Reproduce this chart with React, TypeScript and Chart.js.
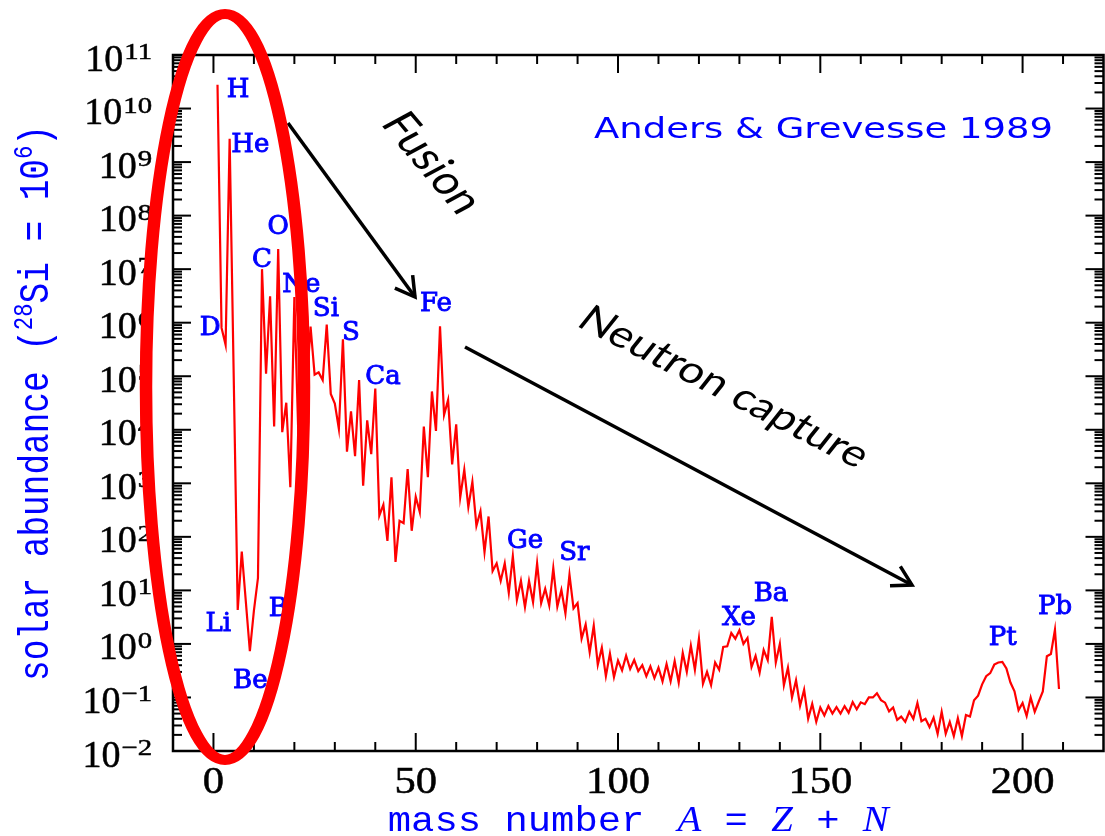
import { useEffect, useRef } from 'react';
import { Chart, registerables } from 'chart.js';

Chart.register(...registerables);

// Solar-system abundances summed over isobars, normalised to 28Si = 1e6
// (Anders & Grevesse 1989). Mass numbers 5 and 8 have no stable nuclei.
const lightMassNumbers = [1, 2, 3, 4, 6, 7, 9, 10, 11];
const lightAbundances = [2.79e10, 8.0e5, 3.86e5, 2.72e9, 4.3, 52.8, 0.73, 4.2, 17.0];

// A = 12 ... 40
const abundancesFromA12 = [
  1.0e7, 1.12e5, 3.12e6, 1.15e4, 2.37e7, 9.0e3, 3.2e4, 843, 3.0e6, 7.3e3,
  3.5e5, 5.74e4, 8.5e5, 1.07e5, 1.18e5, 8.49e4, 9.22e5, 4.67e4, 3.1e4, 1.04e4,
  4.9e5, 3.9e3, 2.2e4, 3.2e3, 8.5e4, 900, 1.5e4, 3.5e3, 5.9e4,
];

// A = 41 ... 70
const abundancesFromA41 = [
  250, 400, 84, 1.3e3, 34, 200, 180, 1.85e3, 130, 560,
  290, 1.15e4, 1.3e3, 5.2e4, 9.55e3, 8.6e5, 1.9e4, 3.6e4, 2.25e3, 1.26e4,
  550, 1.8e3, 360, 1.07e3, 160, 300, 52, 240, 23, 32,
];

// A = 71 ... 100
const abundancesFromA71 = [
  15, 32, 9, 43.5, 6.6, 15, 4.9, 15, 6.0, 32,
  5.8, 10.7, 5.2, 26, 5.0, 10.2, 3.7, 19.6, 4.6, 5.8,
  1.26, 2.3, 0.7, 2.2, 0.41, 0.85, 0.25, 0.66, 0.24, 0.49,
];

// A = 101 ... 140
const abundancesFromA101 = [
  0.32, 0.6, 0.34, 0.5, 0.31, 0.4, 0.25, 0.38, 0.23, 0.36,
  0.2, 0.42, 0.2, 0.48, 0.19, 0.68, 0.3, 0.93, 0.33, 1.26,
  0.18, 0.3, 0.17, 0.45, 0.33, 0.88, 0.9, 1.6, 1.25, 1.8,
  1.0, 1.29, 0.37, 0.6, 0.29, 0.77, 0.5, 3.2, 0.45, 1.0,
];

// A = 141 ... 180
const abundancesFromA141 = [
  0.17, 0.36, 0.1, 0.21, 0.07, 0.14, 0.04, 0.076, 0.035, 0.065,
  0.046, 0.069, 0.05, 0.066, 0.05, 0.069, 0.052, 0.082, 0.06, 0.081,
  0.075, 0.1, 0.1, 0.12, 0.089, 0.08, 0.055, 0.065, 0.038, 0.044,
  0.035, 0.054, 0.04, 0.079, 0.036, 0.04, 0.028, 0.042, 0.021, 0.054,
];

// A = 181 ... 209
const abundancesFromA181 = [
  0.021, 0.035, 0.019, 0.041, 0.019, 0.047, 0.044, 0.089, 0.108, 0.176,
  0.25, 0.285, 0.41, 0.45, 0.46, 0.35, 0.19, 0.13, 0.058, 0.079,
  0.045, 0.1, 0.054, 0.084, 0.13, 0.59, 0.65, 1.85, 0.144,
];

const consecutiveRuns: [number, number[]][] = [
  [12, abundancesFromA12],
  [41, abundancesFromA41],
  [71, abundancesFromA71],
  [101, abundancesFromA101],
  [141, abundancesFromA141],
  [181, abundancesFromA181],
];

// Axis ticks
const massTickLabels = [0, 50, 100, 150, 200];
const decadeExponents = [-2, -1, 0, 1, 2, 3, 4, 5, 6, 7, 8, 9, 10, 11];

// Element tags, anchored in data space (mass number, log10 abundance)
const elementSymbols = ['H', 'He', 'D', 'Li', 'Be', 'B', 'C', 'O', 'Ne', 'Si', 'S', 'Ca', 'Fe', 'Ge', 'Sr', 'Xe', 'Ba', 'Pt', 'Pb'];
const elementTagMass = [6.1, 9.1, -0.8, 1.2, 9.1, 16.0, 12.0, 16.0, 21.7, 27.8, 34.0, 41.9, 55.0, 77.0, 89.2, 129.9, 137.8, 195.1, 208.0];
const elementTagLog = [10.4, 9.37, 5.94, 0.41, -0.65, 0.69, 7.21, 7.84, 6.76, 6.31, 5.86, 5.04, 6.39, 1.96, 1.74, 0.54, 0.97, 0.15, 0.73];

const BLUE = 'rgb(0,0,255)';
const RED = 'rgb(255,0,0)';
const SERIF = '"Liberation Serif", "DejaVu Serif", serif';
const MONO = '"Liberation Mono", "DejaVu Sans Mono", monospace';
const TAG_FONT = '"DejaVu Serif", serif';
const SANS = '"DejaVu Sans", sans-serif';
const NOTE_FONT = 'Lato, "Open Sans", sans-serif';
const STRETCH = 1.25;

function buildPoints() {
  const pts = lightMassNumbers.map((a, i) => ({ x: a, y: lightAbundances[i] }));
  consecutiveRuns.forEach(([start, values]) => {
    values.forEach((v, i) => pts.push({ x: start + i, y: v }));
  });
  return pts;
}

type Piece = { text: string; font: string; rise?: number };

function piecesWidth(ctx: CanvasRenderingContext2D, pieces: Piece[]) {
  let w = 0;
  for (const p of pieces) {
    ctx.font = p.font;
    w += ctx.measureText(p.text).width;
  }
  return w;
}

function drawPieces(ctx: CanvasRenderingContext2D, pieces: Piece[], x0: number) {
  let x = x0;
  for (const p of pieces) {
    ctx.font = p.font;
    ctx.fillText(p.text, x, -(p.rise || 0));
    x += ctx.measureText(p.text).width;
  }
}

function segment(ctx: CanvasRenderingContext2D, x1: number, y1: number, x2: number, y2: number) {
  ctx.beginPath();
  ctx.moveTo(x1, y1);
  ctx.lineTo(x2, y2);
  ctx.stroke();
}

function arrow(ctx: CanvasRenderingContext2D, x1: number, y1: number, x2: number, y2: number) {
  segment(ctx, x1, y1, x2, y2);
  const back = Math.atan2(y1 - y2, x1 - x2);
  const len = 22;
  const spread = (30 * Math.PI) / 180;
  ctx.beginPath();
  ctx.moveTo(x2 + len * Math.cos(back + spread), y2 + len * Math.sin(back + spread));
  ctx.lineTo(x2, y2);
  ctx.lineTo(x2 + len * Math.cos(back - spread), y2 + len * Math.sin(back - spread));
  ctx.stroke();
}

const axesPlugin = {
  id: 'axesFrame',
  afterDatasetsDraw(chart: any) {
    const { ctx, chartArea: a, scales } = chart;
    const xs = scales.x;
    const ys = scales.y;
    ctx.save();
    ctx.strokeStyle = '#000';
    ctx.lineWidth = 2;
    ctx.lineCap = 'butt';

    // mass-number ticks on bottom and top edges
    for (let m = 0; m < xs.max; m += 10) {
      const px = xs.getPixelForValue(m);
      const len = m % 50 === 0 ? 18 : 9;
      segment(ctx, px, a.bottom, px, a.bottom - len);
      segment(ctx, px, a.top, px, a.top + len);
    }

    // logarithmic ticks on left and right edges
    decadeExponents.forEach((e, idx) => {
      const py = ys.getPixelForValue(Math.pow(10, e));
      segment(ctx, a.left, py, a.left + 18, py);
      segment(ctx, a.right, py, a.right - 18, py);
      if (idx < decadeExponents.length - 1) {
        for (let k = 2; k <= 9; k++) {
          const pm = ys.getPixelForValue(k * Math.pow(10, e));
          segment(ctx, a.left, pm, a.left + 9, pm);
          segment(ctx, a.right, pm, a.right - 9, pm);
        }
      }
    });

    ctx.lineWidth = 2.5;
    ctx.strokeRect(a.left, a.top, a.right - a.left, a.bottom - a.top);

    // y tick labels: 10 with a raised exponent
    ctx.fillStyle = '#000';
    ctx.strokeStyle = '#000';
    ctx.lineWidth = 0.5;
    ctx.textBaseline = 'alphabetic';
    ctx.textAlign = 'left';
    decadeExponents.forEach((e) => {
      const py = ys.getPixelForValue(Math.pow(10, e));
      const expText = e < 0 ? '\u2212' + Math.abs(e) : String(e);
      ctx.font = `23px ${SERIF}`;
      const we = ctx.measureText(expText).width * 1.25;
      ctx.font = `38px ${SERIF}`;
      const wb = ctx.measureText('10').width;
      const right = 152;
      ctx.save();
      ctx.translate(right - we, py + 4);
      ctx.scale(1.25, 1);
      ctx.font = `23px ${SERIF}`;
      ctx.fillText(expText, 0, 0);
      ctx.strokeText(expText, 0, 0);
      ctx.restore();
      ctx.font = `38px ${SERIF}`;
      ctx.fillText('10', right - we - 1 - wb, py + 15.5);
      ctx.strokeText('10', right - we - 1 - wb, py + 15.5);
    });

    // x tick labels
    ctx.textAlign = 'center';
    massTickLabels.forEach((m) => {
      const px = xs.getPixelForValue(m);
      ctx.save();
      ctx.translate(px, a.bottom + 42);
      ctx.scale(1.15, 1);
      ctx.font = `37px ${SERIF}`;
      ctx.fillText(String(m), 0, 0);
      ctx.strokeText(String(m), 0, 0);
      ctx.restore();
    });

    // x axis title
    ctx.fillStyle = BLUE;
    ctx.textAlign = 'left';
    const mono = `35px ${MONO}`;
    const ital = `italic 35px ${SERIF}`;
    const xTitle: Piece[] = [
      { text: 'mass number ', font: mono },
      { text: ' A', font: ital },
      { text: ' = ', font: mono },
      { text: 'Z', font: ital },
      { text: ' + ', font: mono },
      { text: 'N', font: ital },
    ];
    const xw = piecesWidth(ctx, xTitle);
    const xTarget = 501;
    ctx.save();
    ctx.translate((a.left + a.right) / 2 - xTarget / 2, a.bottom + 80);
    ctx.scale(xTarget / xw, 1);
    drawPieces(ctx, xTitle, 0);
    ctx.restore();

    // y axis title
    const yMono = `34px ${MONO}`;
    const ySup = `22px ${MONO}`;
    const yTitle: Piece[] = [
      { text: 'solar abundance (', font: yMono },
      { text: '28', font: ySup, rise: 13 },
      { text: 'Si = 10', font: yMono },
      { text: '6', font: ySup, rise: 13 },
      { text: ')', font: yMono },
    ];
    const yw = piecesWidth(ctx, yTitle);
    const yTarget = 556;
    ctx.save();
    ctx.translate(48, (a.top + a.bottom) / 2);
    ctx.rotate(-Math.PI / 2);
    ctx.scale(yTarget / yw, STRETCH);
    drawPieces(ctx, yTitle, -yw / 2);
    ctx.restore();

    ctx.restore();
  },
};

const notesPlugin = {
  id: 'notes',
  afterDraw(chart: any) {
    const { ctx, scales } = chart;
    const xs = scales.x;
    const ys = scales.y;
    ctx.save();

    // element tags
    ctx.fillStyle = BLUE;
    ctx.strokeStyle = BLUE;
    ctx.lineWidth = 0.9;
    ctx.textAlign = 'center';
    ctx.textBaseline = 'alphabetic';
    ctx.font = `26px ${TAG_FONT}`;
    elementSymbols.forEach((sym, i) => {
      const px = xs.getPixelForValue(elementTagMass[i]);
      const py = ys.getPixelForValue(Math.pow(10, elementTagLog[i]));
      ctx.fillText(sym, px, py + 9.5);
      ctx.strokeText(sym, px, py + 9.5);
    });

    // reference caption
    ctx.textAlign = 'left';
    ctx.font = `29px ${SANS}`;
    const cap = 'Anders & Grevesse 1989';
    const cw = ctx.measureText(cap).width;
    ctx.save();
    ctx.translate(594, 138);
    ctx.scale(459 / cw, 1);
    ctx.fillText(cap, 0, 0);
    ctx.restore();

    // process arrows
    ctx.strokeStyle = '#000';
    ctx.lineWidth = 3.5;
    ctx.lineJoin = 'miter';
    arrow(ctx, 288, 123, 415, 297);
    arrow(ctx, 465, 347, 912, 585);

    // process names, set along the arrows
    ctx.fillStyle = '#000';
    ctx.textAlign = 'center';
    ctx.textBaseline = 'middle';
    ctx.save();
    ctx.translate(432, 163);
    ctx.scale(STRETCH, 1);
    ctx.rotate((56 * Math.PI) / 180);
    ctx.font = `39px ${NOTE_FONT}`;
    ctx.fillText('Fusion', 0, 0);
    ctx.restore();

    ctx.save();
    ctx.translate(724, 387);
    ctx.scale(STRETCH, 1);
    ctx.rotate((32.5 * Math.PI) / 180);
    ctx.font = `37px ${NOTE_FONT}`;
    ctx.fillText('Neutron capture', 0, 0);
    ctx.restore();

    // highlight around the light elements
    ctx.save();
    ctx.translate(225, 387);
    ctx.scale(STRETCH, 1);
    ctx.strokeStyle = RED;
    ctx.lineWidth = 10;
    ctx.beginPath();
    ctx.ellipse(0, 0, 79 / STRETCH, 373, 0, 0, Math.PI * 2);
    ctx.stroke();
    ctx.restore();

    ctx.restore();
  },
};

export default function App() {
  const canvasRef = useRef<HTMLCanvasElement>(null);

  useEffect(() => {
    const canvas = canvasRef.current;
    if (!canvas) return;
    const chart = new Chart(canvas, {
      type: 'line',
      data: {
        datasets: [
          {
            data: buildPoints(),
            borderColor: RED,
            borderWidth: 2.2,
            pointRadius: 0,
            tension: 0,
            fill: false,
          },
        ],
      },
      options: {
        animation: false,
        responsive: false,
        devicePixelRatio: 1,
        layout: { padding: { top: 55, right: 1.5, left: 0, bottom: 0 } },
        scales: {
          x: {
            type: 'linear',
            min: -10,
            max: 220,
            grid: { display: false },
            border: { display: false },
            ticks: { display: false },
            afterFit: (s: any) => {
              s.height = 85;
            },
          },
          y: {
            type: 'logarithmic',
            min: 1e-2,
            max: 1e11,
            grid: { display: false },
            border: { display: false },
            ticks: { display: false },
            afterFit: (s: any) => {
              s.width = 173;
            },
          },
        },
        plugins: {
          legend: { display: false },
          tooltip: { enabled: false },
        },
      },
      plugins: [axesPlugin, notesPlugin],
    } as any);
    return () => chart.destroy();
  }, []);

  return (
    <div style={{ position: 'absolute', left: 0, top: 0, width: 1105, height: 836, background: '#fff' }}>
      <canvas ref={canvasRef} width={1105} height={836} style={{ display: 'block' }} />
    </div>
  );
}
